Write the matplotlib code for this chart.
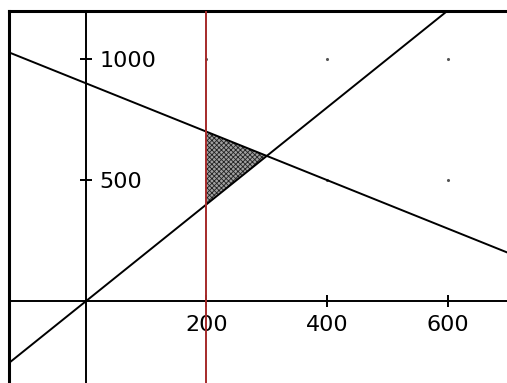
import numpy as np
import matplotlib
matplotlib.use("Agg")
import matplotlib.pyplot as plt

# chart data
x_ticks = [200, 400, 600]
y_ticks = [500, 1000]
slopes = [2, -1]          # y = slope * x + intercept
intercepts = [0, 900]
x_boundary = 200          # vertical constraint x = 200
x_range = (-128, 698)
y_range = (-337, 1200)

plt.rcParams['hatch.linewidth'] = 0.6

fig = plt.figure(figsize=(5.07, 3.83), dpi=100)
ax = fig.add_axes([8.5 / 507, 0, 1 - 8.5 / 507, (383 - 10.5) / 383])
ax.set_xlim(*x_range)
ax.set_ylim(*y_range)

# frame: top + left border
ax.spines['top'].set_linewidth(2.2)
ax.spines['left'].set_linewidth(2.2)
ax.spines['left'].set_position(('axes', 0))
ax.tick_params(axis='y', which='both', left=False, labelleft=False)

# coordinate axes through the origin
ax.spines['bottom'].set_position(('data', 0))
ax.spines['right'].set_position(('data', 0))
ax.spines['bottom'].set_linewidth(1.4)
ax.spines['right'].set_linewidth(1.4)
ax.xaxis.set_ticks_position('bottom')
ax.yaxis.set_ticks_position('right')
ax.set_xticks(x_ticks)
ax.set_yticks(y_ticks)
ax.tick_params(axis='x', direction='inout', length=8, width=1.4, pad=6, labelsize=16)
ax.tick_params(axis='y', direction='inout', length=8, width=1.4, pad=6, labelsize=16,
               right=True, labelright=True)

# grid dots
gx, gy = np.meshgrid(x_ticks, y_ticks)
ax.scatter(gx.ravel(), gy.ravel(), s=1.5, color='#555555', zorder=1)

# constraint lines
xs = np.array(x_range, dtype=float)
for m, b in zip(slopes, intercepts):
    ax.plot(xs, m * xs + b, color='black', lw=1.4, zorder=3)

# feasible region between the lines, right of x = 200
x_cross = (intercepts[1] - intercepts[0]) / (slopes[0] - slopes[1])
xf = np.array([x_boundary, x_cross])
ax.fill_between(xf, slopes[0] * xf + intercepts[0], slopes[1] * xf + intercepts[1],
                facecolor='#a0a0a0', edgecolor='#222222', hatch='xxxxxxx', lw=0, zorder=2)

ax.axvline(x_boundary, color='#a52a2a', lw=1.4, zorder=5)

fig.savefig('out.png', dpi=100)
